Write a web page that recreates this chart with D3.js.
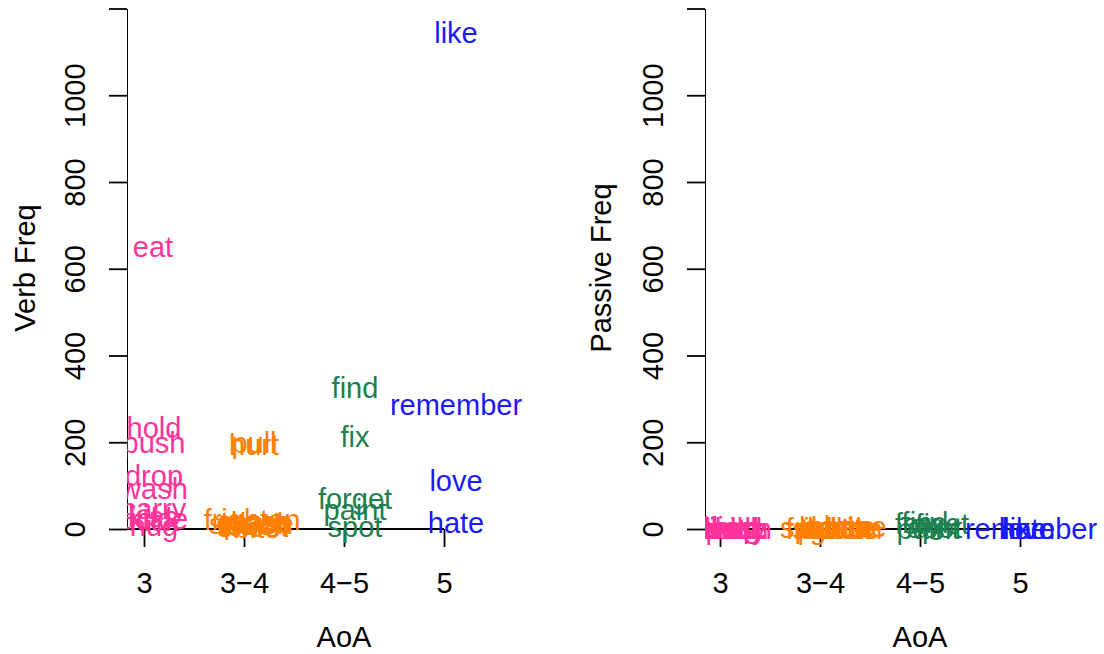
<!DOCTYPE html>
<html>
<head>
<meta charset="utf-8">
<script src="https://cdn.jsdelivr.net/npm/d3@7"></script>
<style>
  body { margin: 0; background: #fff; }
  text { font-family: "Liberation Sans", Arial, sans-serif; }
</style>
</head>
<body>
<div class="chart"></div>
<script>
var width = 1104,
    height = 654;

// verbs, AoA group (1 = "3", 2 = "3-4", 3 = "4-5", 4 = "5")
var verbs = ["eat", "hold", "push", "drop", "wash", "carry", "kiss", "tickle", "kick", "hug",
             "pull", "hurt", "frighten", "scare", "tease", "splash", "shoot", "chase", "touch", "bite",
             "find", "fix", "forget", "paint", "spot",
             "like", "remember", "love", "hate"];
var group = [1, 1, 1, 1, 1, 1, 1, 1, 1, 1,
             2, 2, 2, 2, 2, 2, 2, 2, 2, 2,
             3, 3, 3, 3, 3,
             4, 4, 4, 4];
var verbFreq = [652, 233, 198, 122, 92, 48, 28, 24, 20, 8,
                200, 195, 22, 18, 16, 12, 6, 14, 10, 4,
                325, 212, 71, 44, 5,
                1145, 286, 111, 14];
var passiveFreq = [2, 0, 1, 3, 0, 2, 4, 1, 0, 3,
                   1, 4, 2, 6, 0, 3, 1, 5, 2, 0,
                   14, 10, 12, 2, 4,
                   1, 0, 2, 1];
// jittered AoA positions
var aoaLeft = [1.09, 1.10, 1.10, 1.10, 1.10, 1.10, 1.09, 1.11, 1.10, 1.10,
               2.10, 2.10, 2.08, 2.10, 2.12, 2.07, 2.09, 2.11, 2.10, 2.13,
               3.11, 3.11, 3.11, 3.11, 3.11,
               4.12, 4.12, 4.12, 4.12];
var aoaRight = [1.06, 1.12, 1.17, 1.10, 1.18, 1.14, 1.08, 1.14, 1.20, 1.16,
                2.00, 2.04, 2.14, 2.20, 2.24, 2.02, 2.08, 2.28, 2.16, 2.34,
                3.05, 3.10, 3.12, 3.08, 3.15,
                4.05, 4.11, 4.08, 4.07];

var aoaLabels = ["3", "3\u22124", "4\u22125", "5"];
var yTicks = [0, 200, 400, 600, 800, 1000, 1200];
var groupColors = ["#FF3399", "#FF7F00", "#1B7F4E", "#1A1AFF"];

var fs = 29;

var svg = d3.select(".chart")
    .append("svg")
    .attr("width", width)
    .attr("height", height);

var panels = [
    { left: 127, x1: 144, xs: aoaLeft, ys: verbFreq, ylab: "Verb Freq", titleX: 25, id: "a" },
    { left: 705, x1: 720, xs: aoaRight, ys: passiveFreq, ylab: "Passive Freq", titleX: 601, id: "b" }
];

var y = d3.scaleLinear().domain([0, 1200]).range([529, 8.5]);

panels.forEach(function (p) {
    var x = d3.scaleLinear().domain([1, 4]).range([p.x1, p.x1 + 300]);
    var g = svg.append("g");

    // clip like R's plot region
    svg.append("clipPath").attr("id", "clip-" + p.id)
        .append("rect")
        .attr("x", p.left).attr("y", 0)
        .attr("width", 560).attr("height", 570);

    // y axis
    var yAxis = g.append("g")
        .attr("transform", `translate(${p.left},0)`)
        .call(d3.axisLeft(y).tickValues(yTicks).tickSize(18).tickSizeOuter(0)
            .tickFormat(d => d <= 1000 ? d : ""));
    yAxis.selectAll("text")
        .attr("transform", "rotate(-90)")
        .attr("x", 0)
        .attr("y", -52 + 0.358 * fs)
        .attr("dy", null)
        .attr("text-anchor", "middle")
        .style("font-size", fs + "px")
        .attr("fill", "#000");

    // x axis drawn at y = 0
    g.append("line")
        .attr("x1", p.left).attr("x2", x(4))
        .attr("y1", y(0)).attr("y2", y(0))
        .attr("stroke", "#000");
    var xAxis = g.append("g")
        .attr("transform", `translate(0,${y(0)})`)
        .call(d3.axisBottom(x).tickValues([1, 2, 3, 4]).tickSize(18).tickSizeOuter(0)
            .tickFormat((d, i) => aoaLabels[i]));
    xAxis.select(".domain").remove();
    xAxis.selectAll("text")
        .attr("y", 583 - y(0) + 0.358 * fs)
        .attr("dy", null)
        .style("font-size", fs + "px")
        .attr("fill", "#000");

    g.selectAll(".domain, .tick line").attr("stroke", "#000");
    g.selectAll("line").attr("stroke-width", 1.8);

    // titles
    g.append("text")
        .attr("x", p.x1 + 200)
        .attr("y", 637 + 0.358 * fs)
        .attr("text-anchor", "middle")
        .style("font-size", fs + "px")
        .text("AoA");
    g.append("text")
        .attr("transform", `translate(${p.titleX + 0.358 * fs},268) rotate(-90)`)
        .attr("text-anchor", "middle")
        .style("font-size", fs + "px")
        .text(p.ylab);

    // verb labels
    g.append("g")
        .attr("clip-path", `url(#clip-${p.id})`)
        .selectAll("text")
        .data(verbs)
        .join("text")
        .attr("x", (d, i) => x(p.xs[i]))
        .attr("y", (d, i) => y(p.ys[i]) + 0.358 * fs)
        .attr("text-anchor", "middle")
        .style("font-size", fs + "px")
        .attr("fill", (d, i) => groupColors[group[i] - 1])
        .text(d => d);
});
</script>
</body>
</html>
